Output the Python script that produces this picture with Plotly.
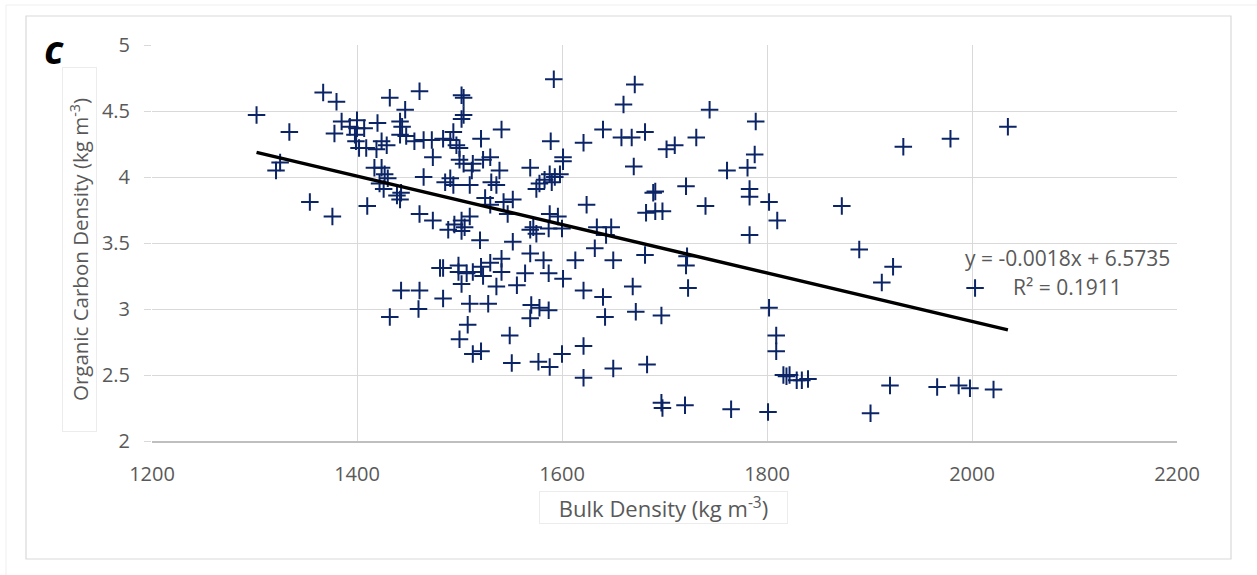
import plotly.graph_objects as go

# ---- data ----
BULK_DENSITY = [
    1302, 1334, 1325, 1321, 1354, 1376, 1367, 1380, 1378,
    1385, 1393, 1400, 1400, 1407, 1398, 1399, 1402, 1409, 1420, 1424, 1429, 1419, 1417, 1424, 1427,
    1430, 1422, 1426, 1439, 1443, 1442, 1432, 1447, 1461, 1442, 1444, 1442, 1448, 1456, 1465, 1473,
    1474, 1465, 1461, 1474, 1410,
    1502, 1504, 1504, 1502, 1541, 1521, 1494, 1484, 1491, 1497, 1500, 1500, 1504, 1513, 1530, 1523,
    1539, 1512, 1491, 1486, 1494, 1510, 1531, 1536, 1525, 1530, 1543, 1552, 1547, 1502, 1505, 1495,
    1489, 1502, 1510, 1520, 1552, 1569, 1578, 1575, 1583, 1588, 1593, 1590, 1598, 1601, 1601, 1589,
    1592, 1621, 1640, 1658, 1660, 1624, 1588, 1596, 1572, 1575, 1569, 1587, 1600, 1634, 1648, 1643,
    1632, 1569,
    1650, 1613, 1582, 1541, 1530, 1521, 1484, 1481, 1499, 1499, 1507, 1513, 1523, 1541, 1564, 1587,
    1601, 1502, 1536, 1556, 1621, 1640, 1484, 1510, 1528, 1570, 1578, 1587, 1569, 1642, 1508, 1549,
    1500, 1513, 1521, 1600, 1621, 1551, 1577, 1588, 1621, 1650,
    1443, 1461, 1460, 1432,
    1671, 1744, 1789, 1681, 1668, 1731, 1710, 1702, 1788, 1670, 1761, 1781, 1721, 1783, 1783, 1802,
    1689, 1691, 1740, 1682, 1691, 1698, 1810, 1783, 1681, 1722,
    1721, 1669, 1723, 1802, 1672, 1697, 1809, 1809, 1683, 1816, 1819, 1822, 1829, 1834, 1840, 1697,
    1698, 1720, 1765, 1801,
    1873, 1890, 1923, 1912, 2003, 1920, 1901, 1966, 1987, 1998, 2021,
    1933, 1979, 2035,
]
OC_DENSITY = [
    4.47, 4.34, 4.11, 4.05, 3.81, 3.70, 4.64, 4.57, 4.33,
    4.42, 4.38, 4.43, 4.37, 4.37, 4.32, 4.27, 4.22, 4.22, 4.41, 4.27, 4.24, 4.21, 4.07, 4.07, 4.02,
    3.99, 3.95, 3.91, 3.86, 3.88, 3.83, 4.60, 4.51, 4.65, 4.42, 4.38, 4.32, 4.31, 4.27, 4.28, 4.28,
    4.15, 4.00, 3.72, 3.67, 3.78,
    4.62, 4.60, 4.47, 4.44, 4.36, 4.29, 4.34, 4.29, 4.28, 4.24, 4.22, 4.13, 4.10, 4.10, 4.15, 4.13,
    4.05, 4.05, 3.99, 3.96, 3.94, 3.94, 3.96, 3.94, 3.84, 3.79, 3.81, 3.83, 3.72, 3.67, 3.62, 3.64,
    3.60, 3.59, 3.70, 3.52, 3.51, 4.07, 3.95, 3.91, 3.98, 4.02, 4.00, 3.96, 4.02, 4.15, 4.12, 4.27,
    4.74, 4.26, 4.36, 4.30, 4.55, 3.79, 3.72, 3.70, 3.62, 3.57, 3.60, 3.61, 3.61, 3.62, 3.62, 3.56,
    3.46, 3.42,
    3.37, 3.37, 3.37, 3.38, 3.35, 3.32, 3.31, 3.31, 3.33, 3.28, 3.27, 3.28, 3.25, 3.28, 3.27, 3.27,
    3.23, 3.19, 3.17, 3.18, 3.14, 3.09, 3.08, 3.04, 3.04, 3.03, 3.01, 2.99, 2.93, 2.94, 2.88, 2.80,
    2.77, 2.66, 2.68, 2.66, 2.72, 2.59, 2.60, 2.56, 2.48, 2.55,
    3.14, 3.14, 3.00, 2.94,
    4.70, 4.51, 4.42, 4.34, 4.30, 4.30, 4.24, 4.21, 4.17, 4.08, 4.05, 4.07, 3.93, 3.91, 3.85, 3.81,
    3.88, 3.89, 3.78, 3.73, 3.74, 3.74, 3.67, 3.56, 3.41, 3.40,
    3.33, 3.17, 3.16, 3.01, 2.98, 2.95, 2.80, 2.68, 2.58, 2.50, 2.49, 2.50, 2.46, 2.46, 2.47, 2.29,
    2.25, 2.27, 2.24, 2.22,
    3.78, 3.45, 3.32, 3.20, 3.16, 2.42, 2.21, 2.41, 2.42, 2.40, 2.39,
    4.23, 4.29, 4.38,
]
TREND_SLOPE = -0.001835
TREND_INTERCEPT = 6.576
X_TICKS = [1200, 1400, 1600, 1800, 2000, 2200]
Y_TICKS = [2, 2.5, 3, 3.5, 4, 4.5, 5]
EQUATION_TEXT = "y = -0.0018x + 6.5735"
R2_TEXT = "R² = 0.1911"
X_TITLE = "Bulk Density (kg m<sup>-3</sup>)"
Y_TITLE = "Organic Carbon Density (kg m<sup>-3</sup>)"
PANEL_LABEL = "c"

MARKER_COLOR = "#0b2466"
GRID = "#d9d9d9"
TEXT = "#595959"
FONT = "Open Sans"

fig = go.Figure()
fig.add_trace(go.Scatter(
    x=BULK_DENSITY, y=OC_DENSITY, mode="markers",
    marker=dict(symbol="cross-thin", size=12.5, line=dict(width=2, color=MARKER_COLOR)),
    showlegend=False, hoverinfo="x+y"))

xmin, xmax = min(BULK_DENSITY), max(BULK_DENSITY)
fig.add_trace(go.Scatter(
    x=[xmin, xmax], y=[TREND_SLOPE * xmin + TREND_INTERCEPT, TREND_SLOPE * xmax + TREND_INTERCEPT],
    mode="lines", line=dict(color="black", width=3.5), showlegend=False, hoverinfo="skip"))

L, R, T, B = 152, 80, 45, 134
W, H = 1257, 575
pw, ph = W - L - R, H - T - B

def px(xp):
    return (xp - L) / pw

def py(yp):
    return (H - B - yp) / ph

fig.update_layout(
    width=W, height=H,
    margin=dict(l=L, r=R, t=T, b=B, pad=0),
    paper_bgcolor="white", plot_bgcolor="white",
    font=dict(family=FONT, color=TEXT, size=19),
    xaxis=dict(range=[1200, 2200], tickvals=X_TICKS, showgrid=True, gridcolor=GRID, gridwidth=1,
               zeroline=False, showline=True, linecolor="#bfbfbf", linewidth=1.5, ticks="",
               ticklabelstandoff=14, tickfont=dict(size=20, color=TEXT)),
    yaxis=dict(range=[2, 5], tickvals=Y_TICKS, showgrid=True, gridcolor=GRID, gridwidth=1,
               zeroline=False, showline=False, ticks="outside", ticklen=7, tickcolor=GRID,
               ticklabelstandoff=10, tickfont=dict(size=20, color=TEXT)),
    annotations=[
        dict(text=EQUATION_TEXT, xref="x", yref="y", x=2093.6, y=3.386, showarrow=False,
             font=dict(size=21, color=TEXT), xanchor="center", yanchor="middle"),
        dict(text=R2_TEXT, xref="x", yref="y", x=2093.6, y=3.167, showarrow=False,
             font=dict(size=21, color=TEXT), xanchor="center", yanchor="middle"),
        dict(text=X_TITLE, xref="paper", yref="paper", x=px(663.5), y=py(507), showarrow=False,
             font=dict(size=22, color=TEXT), xanchor="center", yanchor="middle",
             width=247, height=31, bordercolor="#ececec", borderwidth=1, borderpad=0),
        dict(text=Y_TITLE, xref="paper", yref="paper", x=px(79.5), y=py(249.5), showarrow=False,
             textangle=-90, font=dict(size=20.5, color=TEXT), xanchor="center", yanchor="middle",
             width=363, height=33, bordercolor="#ececec", borderwidth=1, borderpad=0),
        dict(text="<b><i>" + PANEL_LABEL + "</i></b>", xref="paper", yref="paper", x=px(54), y=py(48),
             showarrow=False, font=dict(size=40, color="black", family=FONT),
             xanchor="center", yanchor="middle"),
    ],
    shapes=[
        dict(type="rect", xref="paper", yref="paper", x0=px(26), x1=px(1231), y0=py(559), y1=py(16),
             line=dict(color=GRID, width=1.2), layer="below"),
        dict(type="line", xref="paper", yref="paper", x0=px(6), x1=px(1257), y0=py(5), y1=py(5),
             line=dict(color="#efefef", width=1), layer="below"),
        dict(type="line", xref="paper", yref="paper", x0=px(6), x1=px(6), y0=py(575), y1=py(5),
             line=dict(color="#efefef", width=1), layer="below"),
    ],
)

fig.write_html("out.html", config={"displayModeBar": False},
               post_script="document.body.style.margin='0';document.body.style.overflow='hidden';")
